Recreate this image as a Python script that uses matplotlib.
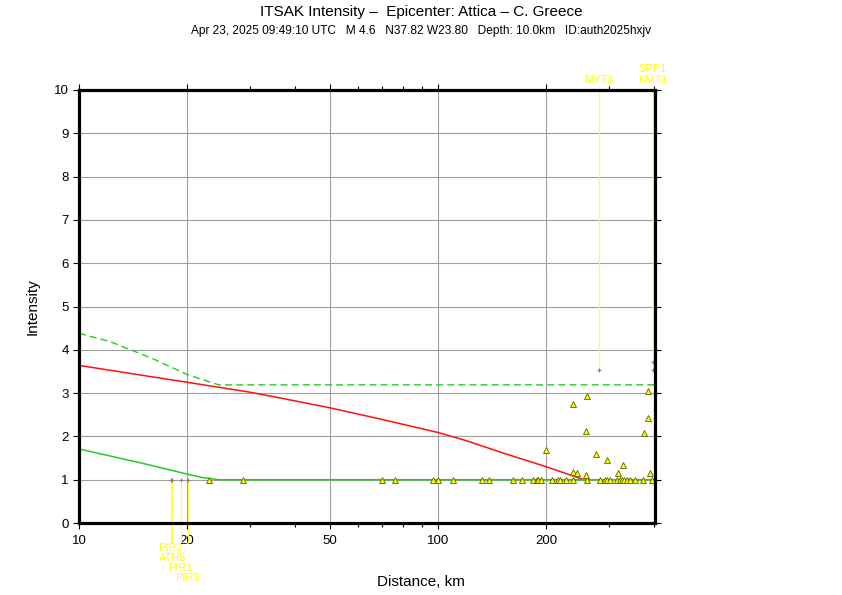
import numpy as np
import matplotlib
matplotlib.use('Agg')
import matplotlib.pyplot as plt
from matplotlib.ticker import FixedLocator, NullFormatter

plt.rcParams['font.family'] = ['Liberation Sans', 'DejaVu Sans']

# model curves (distance km, intensity)
red_d = [10, 20, 30, 40, 50, 70, 100, 120, 150, 200, 255]
red_i = [3.64, 3.25, 3.02, 2.82, 2.66, 2.39, 2.09, 1.90, 1.63, 1.30, 1.0]

low_d = [10, 15, 20, 22, 24.5, 402]
low_i = [1.71, 1.38, 1.13, 1.05, 1.0, 1.0]

high_d = [10, 12.2, 16, 20, 24.5, 402]
high_i = [4.38, 4.19, 3.8, 3.43, 3.19, 3.19]

# recorded intensities (triangles)
obs_d = [23.0, 28.6, 69.7, 75.9, 97.0, 100.2, 110.3, 132.4, 139.0, 161.5, 171.0,
         184.2, 188.4, 190.3, 193.2, 208.2, 216.4, 218.6, 226.8, 237.2, 259.5,
         282.6, 291.7, 296.3, 301.4, 314.6, 321.4, 325.0, 329.7, 335.7, 342.8,
         353.9, 371.6, 393.7,
         200, 237, 260, 258, 275, 295, 327, 318, 384, 384, 375, 390, 238, 244, 258]
obs_i = [1.0] * 34 + [1.69, 2.74, 2.93, 2.12, 1.59, 1.45, 1.33, 1.15, 3.05, 2.42,
                      2.09, 1.15, 1.18, 1.15, 1.1]

# labelled stations
sta_names = ['PIR2', 'ATH5', 'PIR1', 'PIR3', 'MYT1', 'SPP1', 'KMT1']
sta_d = [18.0, 18.2, 19.2, 20.1, 281, 397, 397]
sta_i = [1.0, 1.0, 1.0, 1.0, 3.53, 3.72, 3.53]
sta_label_y = [-0.58, -0.81, -1.04, -1.27, 10.23, 10.48, 10.23]

fig = plt.figure(figsize=(8.42, 5.95), dpi=100)
ax = fig.add_axes([79/842, 1-523/595, (655-79)/842, (523-90)/595])

ax.set_xscale('log')
ax.set_xlim(10, 402)
ax.set_ylim(0, 10)

for x in [20, 50, 100, 200]:
    ax.axvline(x, color='#a0a0a0', lw=0.8, zorder=0)
for y in range(1, 10):
    ax.axhline(y, color='#a0a0a0', lw=0.8, zorder=0)

ax.plot(red_d, red_i, color='#ff1010', lw=1.1, zorder=3)
ax.plot(low_d, low_i, color='#22cc22', lw=1.1, zorder=3)
ax.plot(high_d, high_i, color='#22cc22', lw=1.0, ls=(0, (5, 3)), zorder=3)

# station lines and labels
for name, d, i, ly in zip(sta_names, sta_d, sta_i, sta_label_y):
    if ly < 0:
        ax.plot([d, d], [i, -0.45], color='#ffff40', lw=0.8, zorder=2, clip_on=False)
    else:
        ax.plot([d, d], [10.1, i], color='#ffff40', lw=0.8, zorder=2, clip_on=False)
    ax.plot(d, i, marker='+', color='#808080', ms=3, mew=0.8, zorder=4, clip_on=False)
    ax.text(d, ly, name, color='#ffff00', fontsize=8, ha='center', va='center',
            clip_on=False)

ax.plot(obs_d, obs_i, ls='none', marker='^', ms=5, mfc='#ffff00', mec='#606000',
        mew=0.6, zorder=5, clip_on=False)

ax.xaxis.set_major_locator(FixedLocator([10, 20, 50, 100, 200]))
ax.xaxis.set_minor_locator(FixedLocator([30, 40, 60, 70, 80, 90, 300, 400]))
ax.xaxis.set_minor_formatter(NullFormatter())
ax.set_xticklabels(['10', '20', '50', '100', '200'])
ax.set_yticks(range(0, 11))

ax.tick_params(which='both', direction='out', top=True, right=True,
               labelsize=9.5, width=0.8, color='black')
ax.tick_params(which='major', length=4)
ax.tick_params(which='minor', length=3)
ax.tick_params(axis='x', which='major', pad=5)
for s in ax.spines.values():
    s.set_linewidth(2.3)
    s.set_zorder(6)

fig.text(0.5, 1-12/595, 'ITSAK Intensity \u2013  Epicenter: Attica \u2013 C. Greece',
         ha='center', va='center', fontsize=11)
fig.text(0.5, 1-31/595,
         'Apr 23, 2025 09:49:10 UTC   M 4.6   N37.82 W23.80   Depth: 10.0km   ID:auth2025hxjv',
         ha='center', va='center', fontsize=8.6)
fig.text(0.5, 1-582/595, 'Distance, km', ha='center', va='center', fontsize=11)
fig.text(33/842, 1-307/595, 'Intensity', ha='center', va='center', fontsize=11,
         rotation=90)

fig.savefig('out.png', dpi=100)
